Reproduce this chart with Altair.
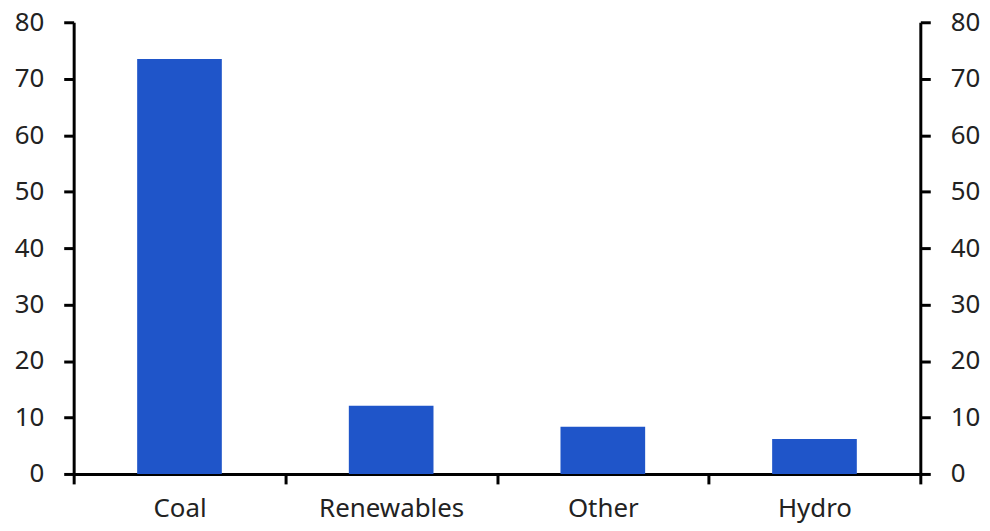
import altair as alt
import pandas as pd

categories = ["Coal", "Renewables", "Other", "Hydro"]
values = [73.5, 12.1, 8.35, 6.2]

df = pd.DataFrame({"cat": categories, "val": values})

W, H = 851, 454
FONT = "Noto Sans"
FS = 26

base = alt.Chart(df)

bars = base.mark_bar(color="#1F55C9", width={"band": 0.4}).encode(
    x=alt.X("cat:N", sort=categories,
            scale=alt.Scale(paddingInner=0, paddingOuter=0),
            axis=alt.Axis(title=None, labelAngle=0, tickBand="extent",
                          domainColor="black", domainWidth=3,
                          tickColor="black", tickWidth=3, tickSize=10,
                          labelFont=FONT, labelFontSize=FS, labelColor="#222222",
                          labelPadding=12)),
    y=alt.Y("val:Q", scale=alt.Scale(domain=[0, 80], nice=False),
            axis=alt.Axis(title=None, values=list(range(0, 81, 10)), orient="left",
                          domainColor="black", domainWidth=3,
                          tickColor="black", tickWidth=3, tickSize=10,
                          labelFont=FONT, labelFontSize=FS, labelColor="#222222",
                          labelPadding=20, grid=False)),
)

right = base.mark_bar(opacity=0).encode(
    y=alt.Y("val:Q", scale=alt.Scale(domain=[0, 80], nice=False),
            axis=alt.Axis(title=None, values=list(range(0, 81, 10)), orient="right",
                          domainColor="black", domainWidth=3,
                          tickColor="black", tickWidth=3, tickSize=10,
                          labelFont=FONT, labelFontSize=FS, labelColor="#222222",
                          labelPadding=20, grid=False)),
)

chart = alt.layer(bars, right).resolve_scale(y="independent").properties(
    width=W, height=H,
    background="white",
    autosize=alt.AutoSizeParams(type="none"),
    padding={"left": 66, "top": 13, "right": 62, "bottom": 55},
).configure_view(strokeWidth=0)

chart.save("out.html", embed_options={"renderer": "svg", "actions": False})
